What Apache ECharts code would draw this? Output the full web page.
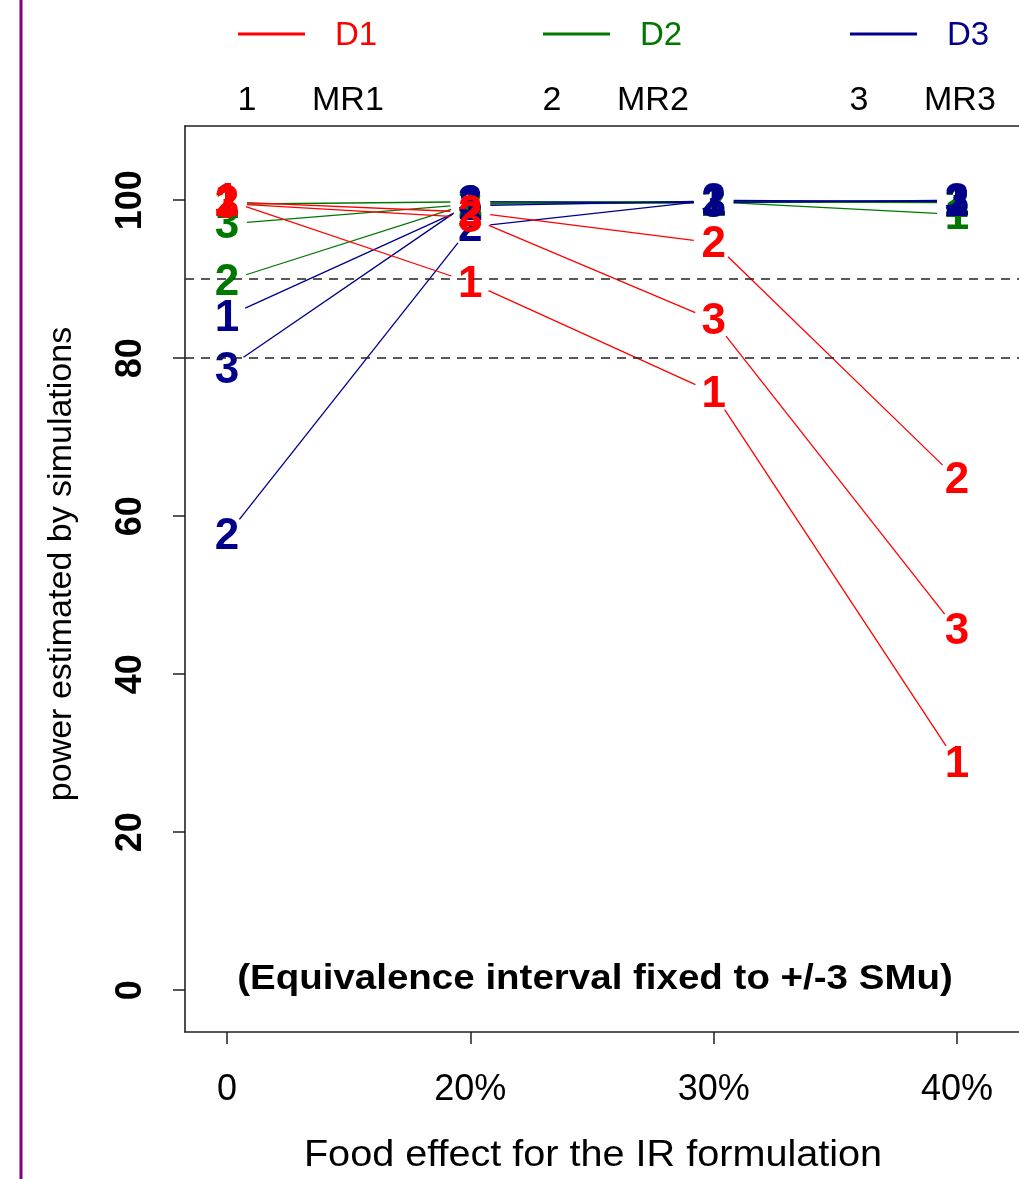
<!DOCTYPE html>
<html>
<head>
<meta charset="utf-8">
<script src="https://cdn.jsdelivr.net/npm/echarts@6/dist/echarts.min.js"></script>
<style>
html,body{margin:0;padding:0;background:#fff;}
#c{width:1019px;height:1179px;}
</style>
</head>
<body>
<div id="c"></div>
<script>
// ---- data ----
const xLabels = ['0', '20%', '30%', '40%'];
const yTicks = [0, 20, 40, 60, 80, 100];
const refLines = [90, 80];
const groups = ['D1', 'D2', 'D3'];
const groupColors = ['#FF0000', '#007800', '#00008B'];
const mrNames = ['MR1', 'MR2', 'MR3'];
const mrSymbols = ['1', '2', '3'];
// power per group (D) per model (MR), along xLabels
const D1_MR1 = [100.0, 89.6, 75.6, 28.8];
const D1_MR2 = [99.8, 98.5, 94.6, 64.7];
const D1_MR3 = [99.6, 97.8, 84.8, 45.6];
const D2_MR1 = [99.5, 99.8, 99.8, 98.2];
const D2_MR2 = [89.8, 99.6, 99.8, 99.7];
const D2_MR3 = [97.0, 99.5, 99.7, 99.8];
const D3_MR1 = [85.3, 99.3, 99.9, 99.9];
const D3_MR2 = [57.6, 96.6, 100.0, 99.8];
const D3_MR3 = [78.7, 99.8, 99.7, 100.0];
const note = '(Equivalence interval fixed to +/-3 SMu)';
const xTitle = 'Food effect for the IR formulation';
const yTitle = 'power estimated by simulations';

const table = {
  D1: [D1_MR1, D1_MR2, D1_MR3],
  D2: [D2_MR1, D2_MR2, D2_MR3],
  D3: [D3_MR1, D3_MR2, D3_MR3]
};
// draw order: D2, D3, D1 (red on top)
const drawOrder = [1, 2, 0];

const FONT = '"Liberation Sans", Arial, sans-serif';
const GAP = 20;
const X_MIN = -0.1726, X_MAX = 3.2548;
const Y_MIN = -5.3, Y_MAX = 109.4;

function makeSeries(gi, mi) {
  const arr = table[groups[gi]][mi];
  const color = groupColors[gi];
  return {
    type: 'custom',
    name: groups[gi] + ' ' + mrNames[mi],
    data: arr.map((v, i) => [i, v]),
    clip: false,
    renderItem: function (params, api) {
      const i = params.dataIndex;
      const p = api.coord([i, arr[i]]);
      const children = [];
      if (i < arr.length - 1) {
        const q = api.coord([i + 1, arr[i + 1]]);
        const dx = q[0] - p[0], dy = q[1] - p[1];
        const len = Math.sqrt(dx * dx + dy * dy);
        if (len > 2 * GAP) {
          const ux = dx / len, uy = dy / len;
          children.push({
            type: 'line',
            shape: { x1: p[0] + ux * GAP, y1: p[1] + uy * GAP, x2: q[0] - ux * GAP, y2: q[1] - uy * GAP },
            style: { stroke: color, lineWidth: 1.3 }
          });
        }
      }
      children.push({
        type: 'text',
        x: p[0], y: p[1] + 2,
        style: {
          text: mrSymbols[mi], fill: color,
          font: 'bold 44px ' + FONT,
          align: 'center', verticalAlign: 'middle'
        }
      });
      return { type: 'group', children: children };
    }
  };
}

const series = [];
drawOrder.forEach(gi => { for (let mi = 0; mi < 3; mi++) series.push(makeSeries(gi, mi)); });
// reference dashed lines
series.unshift({
  type: 'line', data: [], silent: true,
  markLine: {
    silent: true, symbol: ['none', 'none'], label: { show: false },
    lineStyle: { color: '#222', type: [9, 7], width: 1.6 },
    data: refLines.map(v => ({ yAxis: v }))
  }
});

const legendGraphics = [];
const legX = [238, 543, 850];
groups.forEach((g, k) => {
  legendGraphics.push({
    type: 'line', shape: { x1: legX[k], y1: 34, x2: legX[k] + 67, y2: 34 },
    style: { stroke: groupColors[k], lineWidth: 3 }
  });
  legendGraphics.push({
    type: 'text', x: legX[k] + 97, y: 36,
    style: { text: g, fill: groupColors[k], font: '33px ' + FONT, verticalAlign: 'middle' }
  });
  legendGraphics.push({
    type: 'text', x: legX[k] + 9, y: 101,
    style: { text: mrSymbols[k], fill: '#000', font: '34px ' + FONT, align: 'center', verticalAlign: 'middle' }
  });
  legendGraphics.push({
    type: 'text', x: legX[k] + 74, y: 101,
    style: { text: mrNames[k], fill: '#000', font: '34px ' + FONT, verticalAlign: 'middle' }
  });
});

const AXIS_COLOR = '#222';
const option = {
  animation: false,
  backgroundColor: '#fff',
  grid: { left: 185, top: 126, right: 0, bottom: 147, show: false, containLabel: false },
  xAxis: [{
    type: 'value', min: X_MIN, max: X_MAX, position: 'bottom',
    splitLine: { show: false },
    axisLine: { show: true, onZero: false, lineStyle: { color: AXIS_COLOR, width: 1.6 } },
    axisTick: { show: true, length: 12, lineStyle: { color: AXIS_COLOR, width: 1.5 }, customValues: [0, 1, 2, 3] },
    axisLabel: {
      customValues: [0, 1, 2, 3], margin: 40,
      formatter: v => xLabels[Math.round(v)],
      color: '#000', fontFamily: FONT, fontSize: 36
    }
  }, {
    type: 'value', min: X_MIN, max: X_MAX, position: 'top',
    splitLine: { show: false },
    axisLine: { show: true, onZero: false, lineStyle: { color: AXIS_COLOR, width: 1.6 } },
    axisTick: { show: false }, axisLabel: { show: false }
  }],
  yAxis: {
    type: 'value', min: Y_MIN, max: Y_MAX,
    splitLine: { show: false },
    axisLine: { show: true, onZero: false, lineStyle: { color: AXIS_COLOR, width: 1.6 } },
    axisTick: { show: true, length: 12, lineStyle: { color: AXIS_COLOR, width: 1.5 }, customValues: yTicks },
    axisLabel: {
      customValues: yTicks, rotate: 90, margin: 36,
      color: '#000', fontFamily: FONT, fontSize: 36, fontWeight: 'bold'
    }
  },
  graphic: [
    {
      type: 'line', shape: { x1: 21, y1: 0, x2: 21, y2: 1179 },
      style: { stroke: '#800080', lineWidth: 3 }
    },
    {
      type: 'text', x: 595, y: 979, scaleX: 1.1,
      style: { text: note, fill: '#000', font: 'bold 35px ' + FONT, align: 'center', verticalAlign: 'middle' }
    },
    {
      type: 'text', x: 593, y: 1156, scaleX: 1.1,
      style: { text: xTitle, fill: '#000', font: '36px ' + FONT, align: 'center', verticalAlign: 'middle' }
    },
    {
      type: 'text', x: 62, y: 564, rotation: Math.PI / 2,
      style: { text: yTitle, fill: '#000', font: '34px ' + FONT, align: 'center', verticalAlign: 'middle' }
    }
  ].concat(legendGraphics),
  series: series
};

const chart = echarts.init(document.getElementById('c'), null, { renderer: 'canvas' });
chart.setOption(option);
</script>
</body>
</html>
